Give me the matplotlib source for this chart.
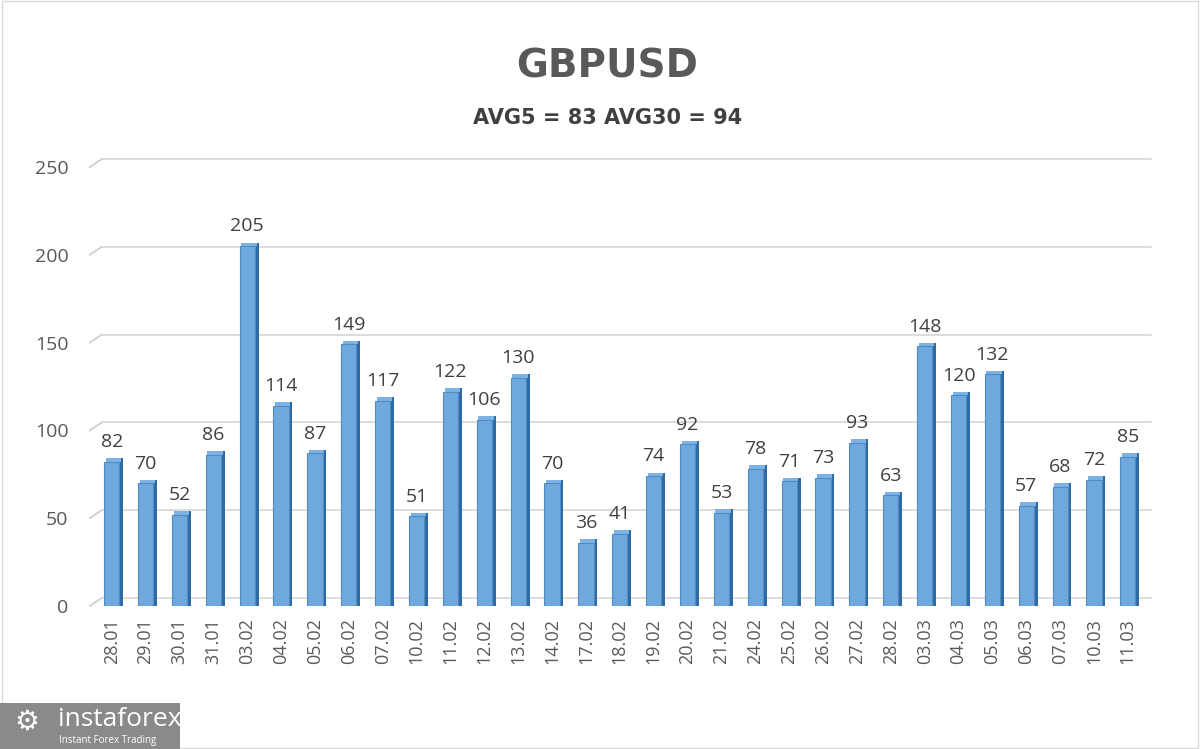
import matplotlib.pyplot as plt
from matplotlib.patches import Rectangle

dates = ['28.01', '29.01', '30.01', '31.01', '03.02', '04.02', '05.02', '06.02',
         '07.02', '10.02', '11.02', '12.02', '13.02', '14.02', '17.02', '18.02',
         '19.02', '20.02', '21.02', '24.02', '25.02', '26.02', '27.02', '28.02',
         '03.03', '04.03', '05.03', '06.03', '07.03', '10.03', '11.03']
values = [82, 70, 52, 86, 205, 114, 87, 149, 117, 51, 122, 106, 130, 70, 36, 41,
          74, 92, 53, 78, 71, 73, 93, 63, 148, 120, 132, 57, 68, 72, 85]
yticks = [0, 50, 100, 150, 200, 250]

plt.rcParams['font.family'] = ['Open Sans', 'DejaVu Sans']

fig = plt.figure(figsize=(12, 7.49), dpi=100)
fig.patch.set_facecolor('white')
fig.add_artist(Rectangle((0.002, 0.002), 0.996, 0.996, transform=fig.transFigure,
                         fill=False, edgecolor='#d9d9d9', linewidth=1))

ax = fig.add_axes([0.079, 0.191, 0.875, 0.586])
n = len(values)
x = list(range(n))
ax.set_xlim(-0.5, n - 0.5)
ax.set_ylim(0, 250)

# pixel sizes -> data units for the 3D back wall
px_x = n / (0.875 * 1200)
px_y = 250 / (0.586 * 749)
dx, dy = 12 * px_x, 8 * px_y

for t in yticks:
    ax.plot([-0.5 - 5 * px_x, -0.5 - 5 * px_x + dx], [t, t + dy], color='#d0d0d0',
            lw=1.3, clip_on=False, zorder=0)
    ax.plot([-0.5 - 5 * px_x + dx, n - 0.5 + 6 * px_x], [t + dy, t + dy],
            color='#d9d9d9', lw=1.3, clip_on=False, zorder=0)

# bars: front face, side face, top cap
ax.bar(x, values, width=0.45, color='#6fa8dc', edgecolor='#4f8cc6', linewidth=0.8, zorder=3)
ax.bar([i + 0.225 for i in x], [v + 2 for v in values], width=0.11, align='edge',
       color='#2f6aa3', linewidth=0, zorder=2)
ax.bar([i + 0.05 for i in x], [2 for v in values], bottom=values, width=0.45,
       color='#7db3e3', linewidth=0, zorder=2)

for i, v in zip(x, values):
    ax.text(i, v + 6, str(v), ha='center', va='bottom', fontsize=14,
            color='#404040', zorder=4)

ax.set_xticks(x)
ax.set_xticklabels(dates, rotation=90, fontsize=13, color='#595959')
ax.set_yticks(yticks)
ax.set_yticklabels([str(t) for t in yticks], fontsize=14, color='#595959')
ax.tick_params(axis='both', length=0)
ax.tick_params(axis='y', pad=19)
ax.tick_params(axis='x', pad=9)
for s in ax.spines.values():
    s.set_visible(False)
ax.patch.set_alpha(0)

fig.text(0.506, 0.911, 'GBPUSD', ha='center', va='center', fontsize=28,
         fontweight='bold', color='#595959', family='DejaVu Sans')
fig.text(0.506, 0.842, 'AVG5 = 83 AVG30 = 94', ha='center', va='center',
         fontsize=15, fontweight='bold', color='#404040', family='DejaVu Sans')

# logo box
fig.add_artist(Rectangle((0.0, 0.0), 0.15, 0.062, transform=fig.transFigure,
                         facecolor='#8a8a8a', edgecolor='none'))
fig.text(0.022, 0.036, '\u2699', ha='center', va='center', fontsize=20, color='white',
         family='DejaVu Sans')
fig.text(0.048, 0.040, 'instaforex', ha='left', va='center', fontsize=19, color='white')
fig.text(0.049, 0.011, 'Instant Forex Trading', ha='left', va='center', fontsize=7,
         color='white')

fig.savefig('out.png', dpi=100)
